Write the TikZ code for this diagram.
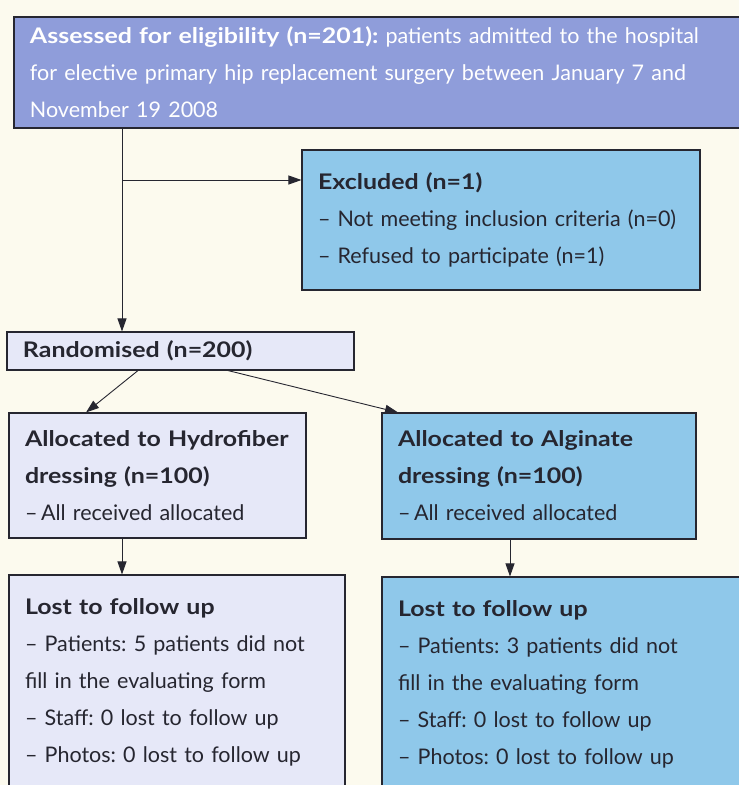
\documentclass[tikz,border=0pt]{standalone}
\usepackage{fontspec}
\setmainfont{Lato}[BoldFeatures={FakeStretch=1.16}]
\frenchspacing
\usetikzlibrary{arrows.meta,positioning}
\definecolor{paper}{RGB}{252,250,238}
\definecolor{periwinkle}{RGB}{143,157,218}
\definecolor{skyblue}{RGB}{143,200,234}
\definecolor{lavender}{RGB}{230,232,248}
\definecolor{inkgray}{RGB}{38,38,48}

\begin{document}
\begin{tikzpicture}[x=1pt,y=-1pt]
\tikzset{
  flowbox/.style={rectangle,draw=inkgray,line width=1.1pt,inner xsep=16pt,inner ysep=0pt,align=left,text=inkgray,font=\fontsize{21.5}{37}\selectfont},
  flowedge/.style={draw=inkgray,line width=0.9pt,-{Triangle[length=13pt,width=9pt]}}
}
\fill[paper] (0,0) rectangle (739,785);
\useasboundingbox (0,0) rectangle (739,785);
\clip (0,0) rectangle (739,785);
\node[flowbox,fill=periwinkle,text=white,text width=699pt,minimum height=111pt] (n_assess) at (379.5,72.5)
  {\textbf{Assessed for eligibility (n=201):} patients admitted to the hospital\\for elective primary hip replacement surgery between January 7 and\\November 19 2008};
\node[flowbox,fill=skyblue,text width=366pt,minimum height=140pt] (n_excl) at (501,220)
  {\textbf{Excluded (n=1)}\\– Not meeting inclusion criteria (n=0)\\– Refused to participate (n=1)};
\node[flowbox,fill=lavender,text width=315pt,minimum height=38pt] (n_rand) at (180.5,351)
  {\textbf{Randomised (n=200)}};
\node[flowbox,fill=lavender,text width=265pt,minimum height=125pt] (n_hydro) at (157.5,475.5)
  {\textbf{Allocated to Hydrofiber}\\\textbf{dressing (n=100)}\\–\,All received allocated};
\node[flowbox,fill=skyblue,text width=282pt,minimum height=126pt] (n_algi) at (539,476)
  {\textbf{Allocated to Alginate}\\\textbf{dressing (n=100)}\\–\,All received allocated};
\node[flowbox,fill=lavender,text width=304pt,minimum height=215pt] (n_losth) at (177,682.5)
  {\textbf{Lost to follow up}\\– Patients: 5 patients did not\\fill in the evaluating form\\– Staff: 0 lost to follow up\\– Photos: 0 lost to follow up};
\node[flowbox,fill=skyblue,text width=331pt,minimum height=215pt] (n_losta) at (563.5,684.5)
  {\textbf{Lost to follow up}\\– Patients: 3 patients did not\\fill in the evaluating form\\– Staff: 0 lost to follow up\\– Photos: 0 lost to follow up};
\coordinate (c_trunk) at (122,180);
\coordinate (c_randl) at (138,0);
\coordinate (c_randr) at (228,0);
\coordinate (c_hydrotip) at (86,0);
\coordinate (c_algitip) at (398,0);
\coordinate (c_downl) at (122,0);
\coordinate (c_downr) at (510,0);
\draw[flowedge] (n_assess.south -| c_trunk) -- (n_rand.north -| c_trunk);
\draw[flowedge] (c_trunk) -- (n_excl.west |- c_trunk);
\draw[flowedge] (n_rand.south -| c_randl) -- (n_hydro.north -| c_hydrotip);
\draw[flowedge] (n_rand.south -| c_randr) -- (n_algi.north -| c_algitip);
\draw[flowedge] (n_hydro.south -| c_downl) -- (n_losth.north -| c_downl);
\draw[flowedge] (n_algi.south -| c_downr) -- (n_losta.north -| c_downr);
\end{tikzpicture}
\end{document}
